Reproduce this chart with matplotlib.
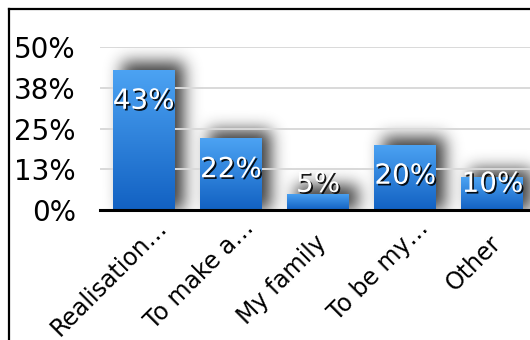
import numpy as np
import matplotlib
matplotlib.use("Agg")
import matplotlib.pyplot as plt
import matplotlib.patheffects as pe
from matplotlib.lines import Line2D
from matplotlib.colors import LinearSegmentedColormap
from matplotlib.transforms import ScaledTranslation

categories = ["Realisation…", "To make a…", "My family", "To be my…", "Other"]
values = [43, 22, 5, 20, 10]
value_labels = ["43%", "22%", "5%", "20%", "10%"]
y_ticks = [0, 12.5, 25, 37.5, 50]
y_tick_labels = ["0%", "13%", "25%", "38%", "50%"]


def blur_1d(a, sigma, axis):
    r = int(3 * sigma)
    k = np.exp(-0.5 * (np.arange(-r, r + 1) / sigma) ** 2)
    k /= k.sum()
    return np.apply_along_axis(lambda m: np.convolve(m, k, mode="same"), axis, a)


def main() -> None:
    W, H, DPI = 530, 340, 100
    fig = plt.figure(figsize=(W / DPI, H / DPI), dpi=DPI)
    fig.patch.set_facecolor("white")

    # plot area runs slightly past the right edge of the canvas
    ax_l, ax_b, ax_w, ax_h = 100, 130, 436, 163
    ax = fig.add_axes([ax_l / W, ax_b / H, ax_w / W, ax_h / H])
    n = len(categories)
    x = np.arange(n)
    width = 0.71

    for s in ax.spines.values():
        s.set_visible(False)

    # gridlines (over the shadow, under the bars) and baseline
    for t in y_ticks[1:]:
        ax.axhline(t, color="#d9d9d9", lw=1.4, zorder=1.5)
    ax.axhline(0, color="black", lw=2.2, zorder=6, clip_on=False)

    # soft drop shadow behind the bars, built on a pixel-sized grid
    nx, ny = ax_w, ax_h + 40
    ymax = 50 * ny / ax_h
    px_x = ax_w / n          # pixels per category
    px_y = ax_h / 50         # pixels per percent
    gx = np.linspace(-0.5, n - 0.5, nx)
    gy = np.linspace(0, ymax, ny)
    XX, YY = np.meshgrid(gx, gy)
    mask = np.zeros_like(XX)
    dx, dy = 9 / px_x, 8 / px_y
    for xi, v in zip(x, values):
        inside = ((XX >= xi - width / 2 + dx) & (XX <= xi + width / 2 + dx)
                  & (YY <= v + dy))
        mask[inside] = 1.0
    shadow = blur_1d(blur_1d(mask, 8.0, 0), 8.0, 1)
    rgba = np.zeros((ny, nx, 4))
    rgba[..., :3] = 0.1
    rgba[..., 3] = np.clip(shadow * 0.85, 0, 1)
    ax.imshow(rgba, extent=(-0.5, n - 0.5, 0, ymax), origin="lower",
              aspect="auto", interpolation="bilinear", zorder=1)

    # bars with a vertical blue gradient
    cmap = LinearSegmentedColormap.from_list("bar", ["#1261c2", "#4ca3f3"])
    grad = np.linspace(0, 1, 256).reshape(-1, 1)
    bars = ax.bar(x, values, width=width, color="none", zorder=2)
    for b in bars:
        x0, h = b.get_x(), b.get_height()
        im = ax.imshow(grad, cmap=cmap, origin="lower", aspect="auto",
                       extent=(x0, x0 + b.get_width(), 0, h), zorder=2)
        im.set_clip_path(b)
    ax.set_xlim(-0.5, n - 0.5)
    ax.set_ylim(0, 50)

    # value labels
    for xi, v, lab in zip(x, values, value_labels):
        ax.text(xi, max(v - 9.5, 8), lab, ha="center", va="center",
                fontsize=20, color="white", zorder=5,
                path_effects=[pe.withSimplePatchShadow(offset=(1.2, -1.2),
                                                       shadow_rgbFace="black",
                                                       alpha=0.9)])

    # y axis labels
    ax.set_yticks(y_ticks)
    ax.set_yticklabels(y_tick_labels, fontsize=20)
    ax.tick_params(axis="y", length=0, pad=17.5)

    # rotated category labels; a trailing ellipsis hangs past the anchor
    ax.set_xticks([])
    fs = 17
    em = fs / 72  # inches
    for xi, cat in zip(x, categories):
        hang = 0.9 * em if cat.endswith("…") else 0.0
        off = ScaledTranslation(4.5 / DPI + hang / np.sqrt(2),
                                -29 / DPI + hang / np.sqrt(2), fig.dpi_scale_trans)
        ax.text(xi, 0, cat, fontsize=fs, rotation=45, rotation_mode="anchor",
                ha="right", va="center", clip_on=False,
                transform=ax.get_xaxis_transform() + off)

    # outer frame (left and top edges fall inside the canvas)
    fig.add_artist(Line2D([9 / W, 9 / W], [0, 1 - 9 / H], color="black", lw=1.6))
    fig.add_artist(Line2D([9 / W, 1], [1 - 9 / H, 1 - 9 / H], color="black", lw=1.6))

    fig.savefig("out.png", dpi=DPI)


if __name__ == "__main__":
    main()
